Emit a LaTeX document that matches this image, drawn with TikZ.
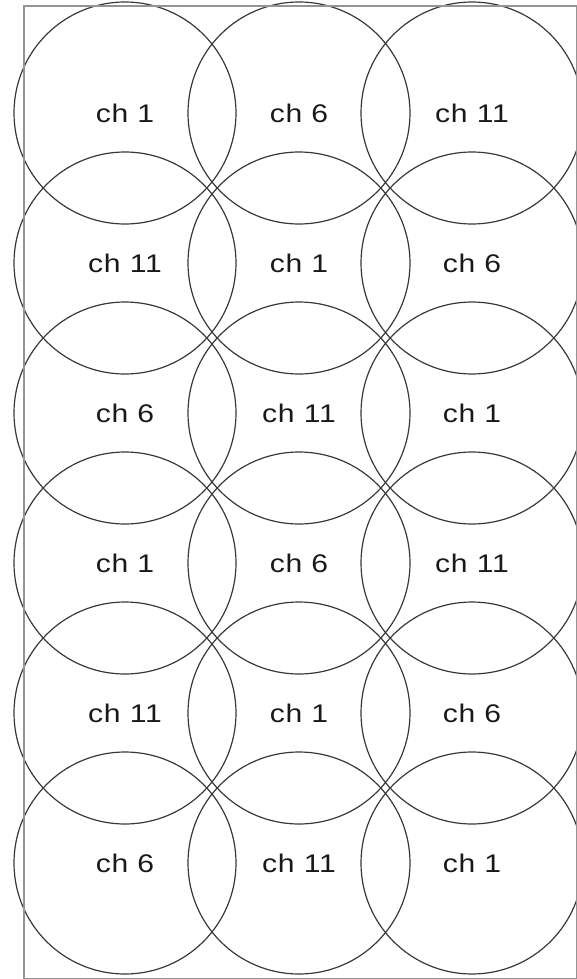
\documentclass[tikz,border=0pt]{standalone}
\usepackage{fontspec}
\setmainfont{Liberation Sans}
\newfontfamily\labelfont[FakeStretch=1.18,LetterSpace=3]{Liberation Sans}
\begin{document}
\begin{tikzpicture}[x=1pt,y=-1pt,
  cell/.style={circle,draw=black!78,line width=1.2pt,minimum size=222pt,inner sep=0pt,
    font=\labelfont\fontsize{25.5}{26}\selectfont,text=black!90,
    text depth=0pt},
  frame/.style={draw=black!42,line width=2pt}]
\useasboundingbox (0,0) rectangle (577,979);
\foreach \r/\a/\b/\c in {0/1/6/11,1/11/1/6,2/6/11/1,3/1/6/11,4/11/1/6,5/6/11/1}{
  \node[cell] (n\r a) at (125,113+150*\r) {ch \a};
  \node[cell] (n\r b) at (299,113+150*\r) {ch \b};
  \node[cell] (n\r c) at (472,113+150*\r) {ch \c};
}
\node[frame,rectangle,minimum width=553.5pt,minimum height=972.5pt,inner sep=0pt,anchor=north west] (box) at (22.5,5.5) {};
\end{tikzpicture}
\end{document}
